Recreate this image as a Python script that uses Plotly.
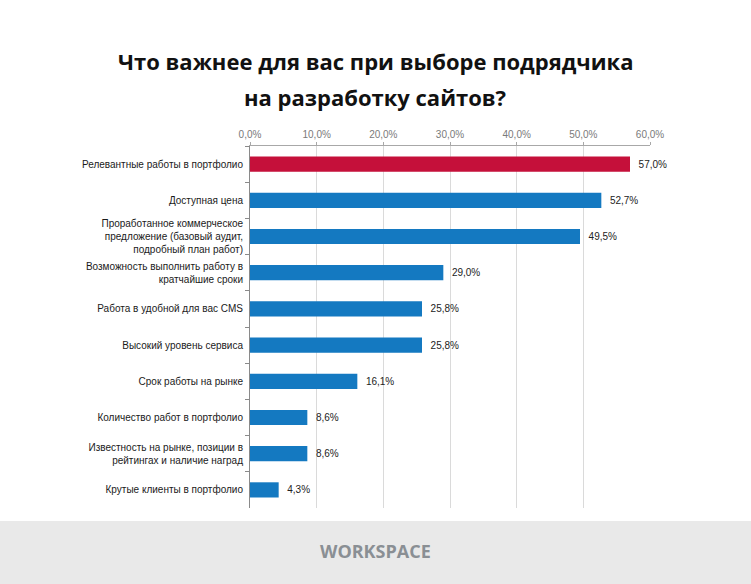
import plotly.graph_objects as go

categories = [
    "Релевантные работы в портфолио",
    "Доступная цена",
    "Проработанное коммерческое<br>предложение (базовый аудит,<br>подробный план работ)",
    "Возможность выполнить работу в<br>кратчайшие сроки",
    "Работа в удобной для вас CMS",
    "Высокий уровень сервиса",
    "Срок работы на рынке",
    "Количество работ в портфолио",
    "Известность на рынке, позиции в<br>рейтингах и наличие наград",
    "Крутые клиенты в портфолио",
]
values = [57.0, 52.7, 49.5, 29.0, 25.8, 25.8, 16.1, 8.6, 8.6, 4.3]
value_labels = ["57,0%", "52,7%", "49,5%", "29,0%", "25,8%", "25,8%", "16,1%", "8,6%", "8,6%", "4,3%"]
bar_colors = ["#C5103A"] + ["#1479C1"] * 9
tick_values = [0, 10, 20, 30, 40, 50, 60]
tick_labels = ["0,0%", "10,0%", "20,0%", "30,0%", "40,0%", "50,0%", "60,0%"]
title_lines = ["Что важнее для вас при выборе подрядчика", "на разработку сайтов?"]

fig = go.Figure()
fig.add_trace(go.Bar(
    x=values, y=categories, orientation="h",
    marker=dict(color=bar_colors, line=dict(width=0)),
    width=0.42,
    text=value_labels, textposition="outside",
    texttemplate="\u00a0\u00a0%{text}",
    textfont=dict(family="Liberation Sans, Arial, sans-serif", size=10, color="#222222"),
    cliponaxis=False,
    hoverinfo="skip",
))

fig.update_layout(
    width=751, height=584,
    margin=dict(l=250, r=101, t=146, b=76),
    paper_bgcolor="white", plot_bgcolor="white",
    showlegend=False,
    font=dict(family="Liberation Sans, Arial, sans-serif", size=10, color="#222222"),
    xaxis=dict(
        side="top", range=[0, 60], tickvals=tick_values, ticktext=tick_labels,
        showgrid=True, gridcolor="#DADADA", gridwidth=1,
        showline=True, linecolor="#A8A8A8", linewidth=1,
        ticks="outside", ticklen=3, tickcolor="#A8A8A8",
        tickfont=dict(size=10, color="#7A7A7A"),
        zeroline=False, fixedrange=True,
    ),
    yaxis=dict(
        autorange="reversed", categoryorder="array", categoryarray=categories,
        showline=True, linecolor="#8A8A8A", linewidth=1,
        ticks="outside", ticklen=4, tickcolor="#8A8A8A", tickson="boundaries",
        tickfont=dict(size=10, color="#1A1A1A"),
        ticklabelstandoff=4,
        showgrid=False, fixedrange=True,
    ),
    bargap=0.58,
)

# footer band
fig.add_shape(type="rect", xref="paper", yref="paper",
              x0=-1.0, x1=2.0, y0=(508 - 521) / 362, y1=(508 - 600) / 362,
              fillcolor="#E9E9E9", line=dict(width=0), layer="below")

# title lines
for line, ypx in zip(title_lines, [61, 97]):
    fig.add_annotation(text="<b>" + line + "</b>", xref="paper", yref="paper",
                       x=(375 - 250) / 400, y=(508 - ypx) / 362,
                       xanchor="center", yanchor="middle", showarrow=False,
                       font=dict(family="Open Sans, sans-serif", size=22, color="#111111"))

# footer logo text
fig.add_annotation(text="<b>WORKSPACE</b>", xref="paper", yref="paper",
                   x=(375 - 250) / 400, y=(508 - 551) / 362,
                   xanchor="center", yanchor="middle", showarrow=False,
                   font=dict(family="Open Sans, sans-serif", size=18, color="#8A8F94"))

fig.write_html("out.html", config={"displayModeBar": False},
               post_script="document.body.style.margin='0';")
